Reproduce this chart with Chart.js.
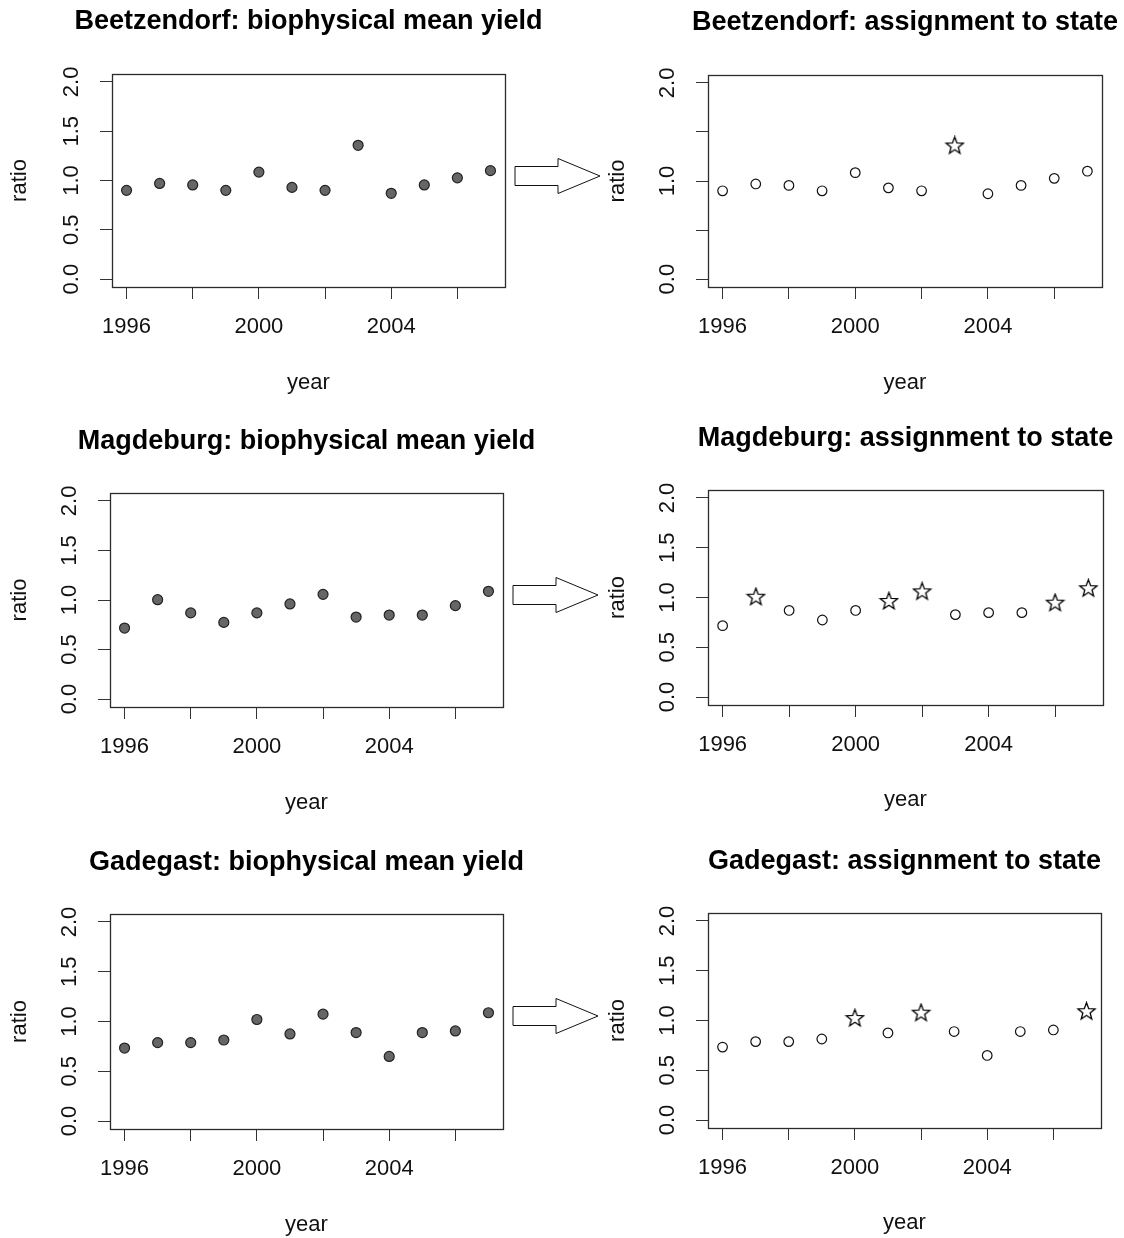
<!DOCTYPE html>
<html>
<head>
<meta charset="utf-8">
<script src="https://cdn.jsdelivr.net/npm/chart.js@4.4.1/dist/chart.umd.min.js"></script>
<style>
  html, body { margin: 0; padding: 0; background: #fff; overflow: hidden; width: 1124px; height: 1238px; }
  canvas { position: absolute; }
</style>
</head>
<body>
<canvas id="tl"></canvas>
<canvas id="tr"></canvas>
<canvas id="ml"></canvas>
<canvas id="mr"></canvas>
<canvas id="bl"></canvas>
<canvas id="br"></canvas>
<script>
const years = [1996, 1997, 1998, 1999, 2000, 2001, 2002, 2003, 2004, 2005, 2006, 2007];

const beetzendorf = [0.90, 0.97, 0.955, 0.90, 1.085, 0.93, 0.90, 1.357, 0.87, 0.955, 1.027, 1.10];
const magdeburg   = [0.717, 1.003, 0.87, 0.774, 0.87, 0.96, 1.057, 0.828, 0.848, 0.848, 0.943, 1.088];
const gadegast    = [0.733, 0.788, 0.788, 0.814, 1.02, 0.875, 1.074, 0.889, 0.649, 0.889, 0.905, 1.088];

// years assigned to the state (drawn as stars)
const beetzendorfStars = [2003];
const magdeburgStars   = [1997, 2001, 2002, 2006, 2007];
const gadegastStars    = [2000, 2002, 2007];

const xTicks = [1996, 1998, 2000, 2002, 2004, 2006];
const xTickLabels = ['1996', '', '2000', '', '2004', ''];
const yTicks = [0, 0.5, 1, 1.5, 2];
const yTickLabels = ['0.0', '0.5', '1.0', '1.5', '2.0'];
const yTickLabelsSparse = ['0.0', '', '1.0', '', '2.0'];

const FONT = '"Liberation Sans", Arial, sans-serif';
const TEXT = '#111';

// outlined five-point star used as point style
const starImg = document.createElement('canvas');
starImg.width = 21; starImg.height = 21;
(function () {
  const c = starImg.getContext('2d');
  c.strokeStyle = '#000';
  c.lineWidth = 1.3;
  c.beginPath();
  for (let i = 0; i < 10; i++) {
    const r = i % 2 === 0 ? 9 : 3.8;
    const a = -Math.PI / 2 + i * Math.PI / 5;
    const px = 10.5 + r * Math.cos(a), py = 10.5 + r * Math.sin(a);
    if (i === 0) c.moveTo(px, py); else c.lineTo(px, py);
  }
  c.closePath();
  c.stroke();
})();

const boxPlugin = {
  id: 'box',
  afterDraw(chart) {
    const a = chart.chartArea, ctx = chart.ctx;
    ctx.save();
    ctx.strokeStyle = '#2b2b2b';
    ctx.lineWidth = 1.3;
    ctx.strokeRect(Math.round(a.left) + 0.5, Math.round(a.top) + 0.5,
      Math.round(a.right - a.left), Math.round(a.bottom - a.top));
    ctx.restore();
  }
};

// main title centred over the plot box, like R's main=
const mainTitlePlugin = {
  id: 'mainTitle',
  afterDraw(chart, args, opts) {
    const a = chart.chartArea, ctx = chart.ctx;
    ctx.save();
    ctx.fillStyle = '#000';
    ctx.font = 'bold 27px ' + FONT;
    ctx.textAlign = 'center';
    ctx.textBaseline = 'middle';
    ctx.fillText(opts.text, (a.left + a.right) / 2, opts.y + 2);
    ctx.restore();
  }
};

const arrowPlugin = {
  id: 'arrow',
  afterDraw(chart) {
    const a = chart.chartArea, ctx = chart.ctx;
    const cy = a.top + 102;
    const x0 = a.right + 10, xb = a.right + 53, xt = a.right + 95;
    ctx.save();
    ctx.fillStyle = '#fff';
    ctx.strokeStyle = '#111';
    ctx.lineWidth = 1;
    ctx.beginPath();
    ctx.moveTo(x0, cy - 9.5);
    ctx.lineTo(xb, cy - 9.5);
    ctx.lineTo(xb, cy - 17.5);
    ctx.lineTo(xt, cy);
    ctx.lineTo(xb, cy + 17.5);
    ctx.lineTo(xb, cy + 9.5);
    ctx.lineTo(x0, cy + 9.5);
    ctx.closePath();
    ctx.fill();
    ctx.stroke();
    ctx.restore();
  }
};

function makePanel(p) {
  const cv = document.getElementById(p.id);
  cv.width = p.cw; cv.height = p.ch;
  cv.style.left = p.cx + 'px';
  cv.style.top = p.cy + 'px';

  const styles = years.map(yr => (p.stars && p.stars.includes(yr)) ? starImg : 'circle');
  const yLabels = p.sparse ? yTickLabelsSparse : yTickLabels;

  new Chart(cv, {
    type: 'scatter',
    data: {
      datasets: [{
        data: years.map((yr, i) => ({ x: yr, y: p.values[i] })),
        pointStyle: styles,
        pointRadius: p.state ? 4.8 : 5,
        pointBackgroundColor: p.state ? '#fff' : '#666',
        pointBorderColor: p.state ? '#111' : '#222',
        pointBorderWidth: 1.2
      }]
    },
    options: {
      responsive: false,
      animation: false,
      layout: { padding: { left: 0, top: p.box.t - p.cy, right: p.cx + p.cw - p.box.r, bottom: 0 } },
      plugins: {
        legend: { display: false },
        tooltip: { enabled: false },
        mainTitle: { text: p.title, y: p.titleY - p.cy }
      },
      scales: {
        x: {
          type: 'linear',
          min: 1995.56,
          max: 2007.44,
          afterBuildTicks: s => { s.ticks = xTicks.map(v => ({ value: v })); },
          afterFit: s => { s.height = p.cy + p.ch - p.box.b; },
          ticks: {
            autoSkip: false, maxRotation: 0, minRotation: 0, padding: 14.8,
            color: TEXT, font: { family: FONT, size: 22, lineHeight: 1.2 },
            callback: (v, i) => xTickLabels[i]
          },
          grid: { drawOnChartArea: false, tickLength: 12, color: '#333', lineWidth: 1 },
          border: { display: false },
          title: {
            display: true, text: 'year', color: TEXT,
            font: { family: FONT, size: 22, lineHeight: 1.2 },
            padding: { top: 0, bottom: Math.max(0, p.cy + p.ch - p.box.b - p.yearOff - 13.2) }
          }
        },
        y: {
          type: 'linear',
          min: -0.08,
          max: 2.08,
          afterBuildTicks: s => { s.ticks = yTicks.map(v => ({ value: v })); },
          afterFit: s => { s.width = p.box.l - p.cx; },
          ticks: {
            autoSkip: false, minRotation: 90, maxRotation: 90, padding: 12.5,
            crossAlign: 'center',
            color: TEXT, font: { family: FONT, size: 22, lineHeight: 1.2 },
            callback: (v, i) => yLabels[i]
          },
          grid: { drawOnChartArea: false, tickLength: 12, color: '#333', lineWidth: 1 },
          border: { display: false },
          title: {
            display: true, text: 'ratio', color: TEXT,
            font: { family: FONT, size: 22, lineHeight: 1.2 },
            padding: { top: p.ratioX - p.cx - 13.2, bottom: 0 }
          }
        }
      }
    },
    plugins: p.arrow ? [boxPlugin, mainTitlePlugin, arrowPlugin] : [boxPlugin, mainTitlePlugin]
  });
}

const panels = [
  { id: 'tl', cx: 0, cy: 0, cw: 603, ch: 410, box: { l: 112, t: 74, r: 505, b: 287 },
    title: 'Beetzendorf: biophysical mean yield', titleY: 20, ratioX: 20, yearOff: 96,
    values: beetzendorf, state: false, arrow: true },
  { id: 'tr', cx: 603, cy: 0, cw: 521, ch: 410, box: { l: 708, t: 75, r: 1102, b: 287 },
    title: 'Beetzendorf: assignment to state', titleY: 21, ratioX: 618, yearOff: 96,
    values: beetzendorf, state: true, stars: beetzendorfStars, sparse: true },
  { id: 'ml', cx: 0, cy: 412, cw: 603, ch: 415, box: { l: 110, t: 493, r: 503, b: 707 },
    title: 'Magdeburg: biophysical mean yield', titleY: 440, ratioX: 20, yearOff: 96,
    values: magdeburg, state: false, arrow: true },
  { id: 'mr', cx: 603, cy: 412, cw: 521, ch: 415, box: { l: 708, t: 490, r: 1103, b: 705 },
    title: 'Magdeburg: assignment to state', titleY: 437, ratioX: 618, yearOff: 95,
    values: magdeburg, state: true, stars: magdeburgStars },
  { id: 'bl', cx: 0, cy: 829, cw: 603, ch: 411, box: { l: 110, t: 914, r: 503, b: 1129 },
    title: 'Gadegast: biophysical mean yield', titleY: 861, ratioX: 20, yearOff: 96,
    values: gadegast, state: false, arrow: true },
  { id: 'br', cx: 603, cy: 829, cw: 521, ch: 411, box: { l: 708, t: 913, r: 1101, b: 1128 },
    title: 'Gadegast: assignment to state', titleY: 860, ratioX: 618, yearOff: 95,
    values: gadegast, state: true, stars: gadegastStars }
];

panels.forEach(makePanel);
</script>
</body>
</html>
